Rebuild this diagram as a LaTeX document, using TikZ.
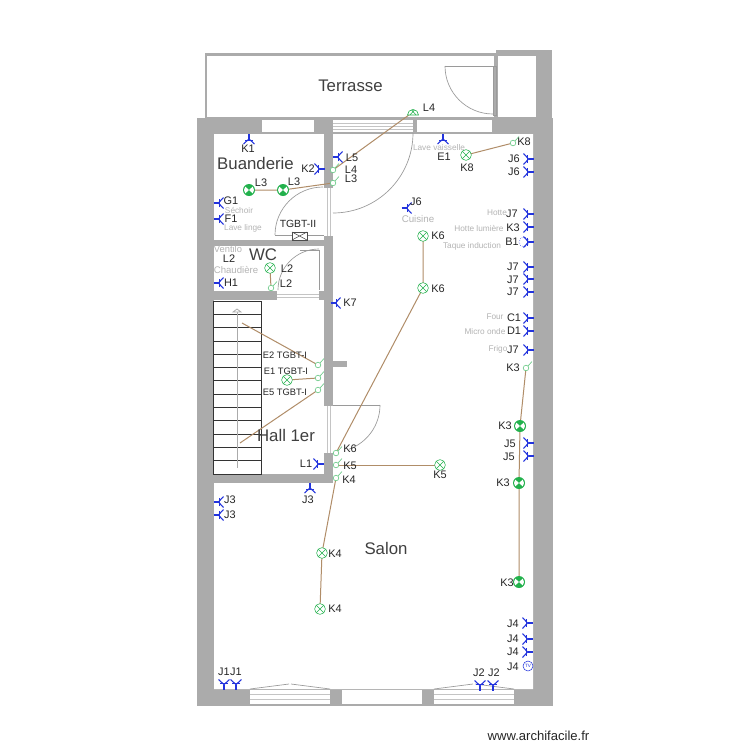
\documentclass[tikz,border=0pt]{standalone}
\usepackage{fontspec}
\setmainfont{Liberation Sans}
\definecolor{wallc}{HTML}{ABABAB}
\definecolor{stripec}{HTML}{C4C4C4}
\definecolor{wirec}{HTML}{B08D68}
\definecolor{lampc}{HTML}{22B14C}
\definecolor{sockc}{HTML}{2233DD}
\definecolor{graytxt}{HTML}{B4B4B4}
\tikzset{
  wall/.style={fill=wallc,draw=none},
  room/.style={fill=white,draw=none},
  thinln/.style={draw=stripec,line width=0.7pt},
  doorln/.style={draw=wallc!90!black,line width=0.5pt},
  wire/.style={draw=wirec,line width=0.75pt},
  lbl/.style={font=\fontsize{8.2}{9}\selectfont,inner sep=0pt,text=black!85},
  small/.style={font=\fontsize{7}{8}\selectfont,inner sep=0pt,text=black!85},
  glbl/.style={font=\fontsize{6.2}{7}\selectfont,inner sep=0pt,text=graytxt},
  rname/.style={font=\fontsize{12.6}{14}\selectfont,inner sep=0pt,text=black!75},
  socket/.pic={
    \draw[sockc,line width=0.8pt] (5.5,0) -- (0.5,0);
    \draw[sockc,line width=0.8pt] (-4.5,-5.5) .. controls (-2,-3) and (-0.5,-1) .. (0.5,0) .. controls (-0.5,1) and (-2,3) .. (-4.5,5.5);
    \draw[sockc,line width=0.6pt] (-0.5,-4) -- (-0.5,4);
  },
  xlamp/.pic={
    \draw[lampc,line width=0.4pt,fill=white] (0,0) circle (5.4);
    \draw[lampc,line width=0.4pt] (-3.8,-3.8) -- (3.8,3.8) (-3.8,3.8) -- (3.8,-3.8);
  },
  bowlamp/.pic={
    \fill[lampc] (0,0) circle (6);
    \fill[white] (0,0) -- (222:5) arc (222:138:5) -- cycle;
    \fill[white] (0,0) -- (-42:5) arc (-42:42:5) -- cycle;
  },
  halflamp/.pic={
    \draw[lampc,line width=0.45pt,fill=white] (-5.5,3) arc (180:360:5.5) -- cycle;
    \draw[lampc,line width=0.45pt] (-3,3) -- (1.5,-2.2) (3,3) -- (-1.5,-2.2);
  },
  swi/.pic={
    \draw[lampc!70!white,line width=0.45pt,fill=white] (0,0) circle (2.8);
    \draw[lampc!70!white,line width=0.45pt] (2,-2) -- (6,-6.5);
  },
}
\begin{document}
\begin{tikzpicture}[x=0.75pt,y=-0.75pt]
\useasboundingbox (0,0) rectangle (750,750);
% ---- walls
\fill[wall] (197,118) rectangle (553,706);
\fill[wall] (496,50) rectangle (552,118);
\fill[wall] (205,53) rectangle (497,120);
\fill[room] (207,56) rectangle (494,117);
\fill[room] (498,56) rectangle (536,117);
% rooms
\fill[room] (214,134) rectangle (324,240);
\fill[room] (214,246) rectangle (324,291);
\fill[room] (214,300) rectangle (324,474);
\fill[room] (333,134) -- (533,134) -- (533,689) -- (214,689) -- (214,483) -- (333,483) -- cycle;
\fill[wall] (332,361) rectangle (347,367);
% upper windows
\fill[room] (262,120) rectangle (314,132);
\fill[room] (417,120) rectangle (492,132);
% lower bays
\fill[room] (342,689.6) rectangle (422,704);
\fill[room] (250,689.6) rectangle (330,704);
\fill[room] (434,689.6) rectangle (514,704);
\foreach \yy in {694,699}{
  \draw[thinln] (250,\yy) -- (330,\yy);
  \draw[thinln] (434,\yy) -- (514,\yy);
}
\draw[doorln] (250,689) -- (289,684) (291,684) -- (330,689);
\draw[doorln] (434,689) -- (473,684) (475,684) -- (514,689);
% door stripes
\fill[room] (333,120) rectangle (413,132);
\foreach \yy in {123,126,129}{\draw[thinln] (333,\yy) -- (413,\yy);}
\fill[room] (324,188) rectangle (333,236);
\foreach \xx in {327,330}{\draw[thinln] (\xx,188) -- (\xx,236);}
\fill[room] (277,291) rectangle (319,300);
\foreach \yy in {294,297}{\draw[thinln] (277,\yy) -- (319,\yy);}
\fill[room] (324,406) rectangle (333,453);
\foreach \xx in {327,330}{\draw[thinln] (\xx,406) -- (\xx,453);}
% door panels
\draw[doorln] (333,213) arc (90:0:80);
\draw[doorln] (275,235) arc (180:270:48);
\draw[doorln] (275,235) -- (324,235);
\draw[doorln] (278,290) arc (180:270:41);
\draw[doorln] (300,250) -- (319,250) -- (319,290);
\draw[doorln] (333,405) -- (380,405);
\draw[doorln] (380,405) arc (0:70:47);
\draw[doorln] (445,66) arc (180:90:48);
\draw[doorln] (445,66) -- (493,66);
\draw[doorln] (493,66) rectangle (496,115);
% stairs
\foreach \i in {1,...,12}{\draw[black!80,line width=0.5pt] (213,{301+\i*13.3}) -- (261,{301+\i*13.3});}
\draw[black!80,line width=0.55pt] (213,301) rectangle (261,474);
\draw[wallc,line width=0.6pt] (237,309) -- (237,468);
\draw[wallc,line width=0.6pt,fill=white] (233,312) -- (237,309) -- (241,312) -- cycle;
% TGBT box
\draw[black!70,line width=0.4pt,fill=white] (292,232) rectangle (307,240);
\draw[black!70,line width=0.4pt] (292,232) -- (307,240) (292,240) -- (307,232);
% ---- equipment anchors
\coordinate (sL4a) at (413,112);
\coordinate (sL4b) at (333,170);
\coordinate (sL3) at (333,183);
\coordinate (lL3b) at (283,190);
\coordinate (lL3a) at (249,190);
\coordinate (lL2) at (270,268);
\coordinate (sL2) at (271,288);
\coordinate (lK8) at (466,155);
\coordinate (sK8) at (513,143);
\coordinate (lK6a) at (423,236);
\coordinate (lK6b) at (423,288);
\coordinate (sK6) at (336,453);
\coordinate (sK5) at (336,465);
\coordinate (sK4) at (336,478);
\coordinate (lK5) at (440,465);
\coordinate (lK4a) at (322,553);
\coordinate (lK4b) at (320,609);
\coordinate (sK3) at (526,368);
\coordinate (lK3a) at (520,426);
\coordinate (lK3b) at (519,483);
\coordinate (lK3c) at (519,582);
\coordinate (sE2) at (318,365);
\coordinate (sE1) at (318,378);
\coordinate (sE5) at (318,390);
\coordinate (lE1) at (287,380);
\coordinate (eE2) at (242,323);
\coordinate (eE5) at (240,443);
% ---- wires
\draw[wire] (sL4a) -- (sL4b);
\draw[wire] (sL3) -- (lL3b) -- (lL3a);
\draw[wire] (lL2) -- (sL2);
\draw[wire] (lK8) -- (sK8);
\draw[wire] (lK6a) -- (lK6b) -- (sK6);
\draw[wire] (sK5) -- (lK5);
\draw[wire] (sK4) -- (lK4a) -- (lK4b);
\draw[wire] (sK3) -- (lK3a) -- (lK3b) -- (lK3c);
\draw[wire] (eE2) -- (sE2);
\draw[wire] (lE1) -- (sE1);
\draw[wire] (eE5) -- (sE5);
% ---- lamps
\foreach \c in {lL2,lK8,lK6a,lK6b,lK5,lK4a,lK4b,lE1}{\pic at (\c) {xlamp};}
\foreach \c in {lL3a,lL3b,lK3a,lK3b,lK3c}{\pic at (\c) {bowlamp};}
\pic at (sL4a) {halflamp};
\foreach \c in {sL4b,sL3,sL2,sK8,sK6,sK5,sK4,sK3,sE2,sE1,sE5}{\pic at (\c) {swi};}
% ---- sockets
\foreach \x/\y/\r in {249/139.5/90, 443/139.5/90, 310/488.5/90,
  319/169/0, 318/464/0,
  338/157/180, 219/203/180, 219/219/180, 219/283/180, 336/303/180,
  219/502/180, 219/515/180, 407/208/180,
  528/159/0, 528/172/0, 528/214/0, 528/227/0, 528/242/0, 528/267/0, 528/279/0, 528/292/0,
  528/318/0, 528/331/0, 528/350/0, 528/443/0, 528/456/0,
  527/623/0, 527/639/0, 527/652/0,
  224/684/-90, 236/684/-90, 480/685/-90, 493/685/-90}{
  \pic[rotate=\r] at (\x,\y) {socket};
}
\draw[sockc,line width=0.4pt,densely dotted] (524,242) circle (5);
\node[draw=sockc,circle,line width=0.4pt,fill=white,minimum size=7.5pt,inner sep=0pt,font=\fontsize{3.5}{4}\selectfont,text=sockc] (tv) at (528,666) {TV};
% ---- room names
\node[rname] (n1) at (350.5,85.5) {Terrasse};
\node[rname] (n2) at (255.5,163) {Buanderie};
\node[rname] (n3) at (263,254.5) {WC};
\node[rname] (n4) at (286,435) {Hall 1er};
\node[rname] (n5) at (386,548) {Salon};
% ---- gray notes
\node[glbl] (g1) at (239,210) {Séchoir};
\node[glbl] (g2) at (243,228) {Lave linge};
\node[glbl,font=\fontsize{7}{8}\selectfont] (g3) at (228,249) {Ventilo};
\node[glbl,font=\fontsize{7.2}{8}\selectfont] (g4) at (236,270) {Chaudière};
\node[glbl] (g5) at (439,148) {Lave vaisselle};
\node[glbl,font=\fontsize{7.3}{8}\selectfont] (g6) at (418,219) {Cuisine};
\node[glbl] (g7) at (497,213) {Hotte};
\node[glbl] (g8) at (479,228) {Hotte lumière};
\node[glbl] (g9) at (472,246) {Taque induction};
\node[glbl] (g10) at (495,317) {Four};
\node[glbl] (g11) at (485,332) {Micro onde};
\node[glbl] (g12) at (498,349) {Frigo};
% ---- labels
\foreach \x/\y/\t in {429/108/L4, 248/149/K1, 352/158/L5, 351/170/L4, 351/179/L3, 308/169/K2,
  261/183/L3, 294/182/L3, 231/201/G1, 231/219/F1, 229/259/L2, 287/269/L2, 286/284/L2, 231/283/H1,
  350/303/K7, 444/157/E1, 467/168/K8, 524/142/K8, 514/159/J6, 514/172/J6, 416/202/J6,
  438/236/K6, 438/289/K6, 512/214/J7, 513/228/K3, 512/242/B1, 513/267/J7, 513/280/J7, 513/292/J7,
  514/318/C1, 514/331/D1, 513/350/J7, 513/368/K3, 505/426/K3, 510/444/J5, 509/457/J5, 503/483/K3, 507/583/K3,
  350/449/K6, 350/466/K5, 349/480/K4, 306/464/L1, 440/475/K5, 230/500/J3, 230/515/J3, 308/500/J3,
  335/554/K4, 335/609/K4, 513/624/J4, 513/639/J4, 513/652/J4, 513/667/J4,
  479/673/J2, 494/673/J2, 224/672/J1, 236/672/J1}{
  \node[lbl] at (\x,\y) {\t};
}
\node[small] (t1) at (285,355) {E2 TGBT-I};
\node[small] (t2) at (286,371) {E1 TGBT-I};
\node[small] (t3) at (285,392) {E5 TGBT-I};
\node[font=\fontsize{7.8}{9}\selectfont,inner sep=0pt,text=black!85] (t4) at (298,224) {TGBT-II};
\node[font=\fontsize{9.8}{11}\selectfont,inner sep=0pt,text=black!85] (w) at (538.5,736) {www.archifacile.fr};
\end{tikzpicture}
\end{document}
